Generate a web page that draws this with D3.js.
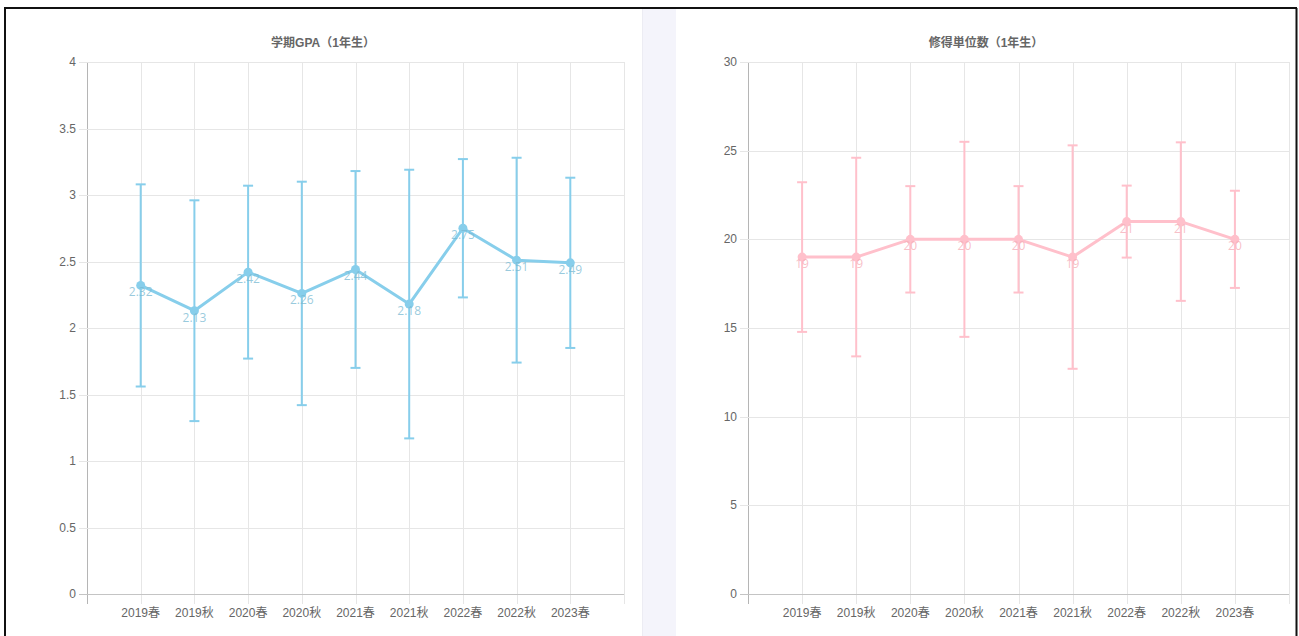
<!DOCTYPE html>
<html><head><meta charset="utf-8">
<script src="https://cdn.jsdelivr.net/npm/d3@7"></script>
<style>
html,body{margin:0;padding:0;background:#fff;}
svg{display:block;}
</style></head>
<body>
<svg id="c" width="1299" height="636"></svg>
<script>
const categories = ["2019春","2019秋","2020春","2020秋","2021春","2021秋","2022春","2022秋","2023春"];
const gpaMean = [2.32, 2.13, 2.42, 2.26, 2.44, 2.18, 2.75, 2.51, 2.49];
const gpaSd   = [0.76, 0.83, 0.65, 0.84, 0.74, 1.01, 0.52, 0.77, 0.64];
const gpaTicks = [0, 0.5, 1, 1.5, 2, 2.5, 3, 3.5, 4];
const creditMean = [19, 19, 20, 20, 20, 19, 21, 21, 20];
const creditSd   = [4.22, 5.6, 3.0, 5.5, 3.0, 6.3, 2.03, 4.47, 2.74];
const creditTicks = [0, 5, 10, 15, 20, 25, 30];

const svg = d3.select("#c");
const CJK = "'Liberation Sans', Arial, 'Noto Sans CJK JP', sans-serif";

// page frame
svg.append("rect").attr("x",0).attr("y",0).attr("width",1299).attr("height",636).attr("fill","#fff");
svg.append("rect").attr("x",642).attr("y",9).attr("width",34).attr("height",627).attr("fill","#f4f4fb");
svg.append("line").attr("x1",642.5).attr("x2",642.5).attr("y1",9).attr("y2",636).attr("stroke","#ececf3");
svg.append("line").attr("x1",4).attr("x2",1297).attr("y1",8).attr("y2",8).attr("stroke","#111").attr("stroke-width",2);
svg.append("line").attr("x1",5).attr("x2",5).attr("y1",8).attr("y2",636).attr("stroke","#111").attr("stroke-width",2);
svg.append("line").attr("x1",1296.5).attr("x2",1296.5).attr("y1",8).attr("y2",636).attr("stroke","#111").attr("stroke-width",2);

function drawChart(opt){
  const g = svg.append("g");
  const x = d3.scaleLinear().domain([0, categories.length + 1]).range([opt.left, opt.right]);
  const y = d3.scaleLinear().domain([0, opt.max]).range([594, 62]);

  // title
  g.append("text").attr("x", opt.titleX).attr("y", 47).attr("text-anchor","middle")
    .attr("font-family", CJK).attr("font-size", 12).attr("font-weight","bold").attr("fill","#666")
    .text(opt.title);

  // vertical grid lines (with tick marks below axis)
  const xs = d3.range(0, categories.length + 2);
  g.selectAll(".vg").data(xs).enter().append("line")
    .attr("x1", d => Math.round(x(d)) + 0.5).attr("x2", d => Math.round(x(d)) + 0.5)
    .attr("y1", y(opt.max)).attr("y2", 604)
    .attr("stroke", d => d === 0 ? "#b5b5b5" : "#e6e6e6").attr("stroke-width", 1);

  // horizontal grid lines + y tick marks
  g.selectAll(".hg").data(opt.ticks).enter().append("line")
    .attr("x1", opt.left - 8).attr("x2", opt.right)
    .attr("y1", d => Math.round(y(d)) + 0.5).attr("y2", d => Math.round(y(d)) + 0.5)
    .attr("stroke", d => d === 0 ? "#c4c4c4" : "#e6e6e6").attr("stroke-width", 1);

  // y tick labels
  g.selectAll(".yl").data(opt.ticks).enter().append("text")
    .attr("x", opt.left - 11).attr("y", d => y(d) + 4)
    .attr("text-anchor","end").attr("font-family", CJK).attr("font-size", 12).attr("fill","#666")
    .text(d => d);

  // x tick labels
  g.selectAll(".xl").data(categories).enter().append("text")
    .attr("x", (d,i) => x(i + 1)).attr("y", 617)
    .attr("text-anchor","middle").attr("font-family", CJK).attr("font-size", 12).attr("fill","#666")
    .text(d => d);

  const pts = opt.mean.map((m, i) => ({i, m, sd: opt.sd[i]}));

  // error bars
  const eb = g.selectAll(".eb").data(pts).enter().append("g");
  eb.append("line").attr("x1", d => x(d.i+1)).attr("x2", d => x(d.i+1))
    .attr("y1", d => y(d.m + d.sd)).attr("y2", d => y(d.m - d.sd))
    .attr("stroke", opt.color).attr("stroke-width", 2);
  eb.append("line").attr("x1", d => x(d.i+1) - 5).attr("x2", d => x(d.i+1) + 5)
    .attr("y1", d => y(d.m + d.sd)).attr("y2", d => y(d.m + d.sd))
    .attr("stroke", opt.color).attr("stroke-width", 2);
  eb.append("line").attr("x1", d => x(d.i+1) - 5).attr("x2", d => x(d.i+1) + 5)
    .attr("y1", d => y(d.m - d.sd)).attr("y2", d => y(d.m - d.sd))
    .attr("stroke", opt.color).attr("stroke-width", 2);

  // line
  const line = d3.line().x(d => x(d.i+1)).y(d => y(d.m));
  g.append("path").datum(pts).attr("d", line).attr("fill","none")
    .attr("stroke", opt.color).attr("stroke-width", 3).attr("stroke-linejoin","round");

  // points
  g.selectAll(".pt").data(pts).enter().append("circle")
    .attr("cx", d => x(d.i+1)).attr("cy", d => y(d.m)).attr("r", 4.5)
    .attr("fill", opt.color);

  // data labels
  g.selectAll(".dl").data(pts).enter().append("text")
    .attr("x", d => x(d.i+1)).attr("y", d => y(d.m) + 11)
    .attr("text-anchor","middle").attr("font-family","'Open Sans', 'DejaVu Sans', sans-serif")
    .attr("font-size", 12).attr("fill", opt.labelColor)
    .text(d => d.m);
}

drawChart({
  title: "学期GPA（1年生）", titleX: 323, left: 87, right: 624, max: 4,
  ticks: gpaTicks, mean: gpaMean, sd: gpaSd, color: "#87ceeb", labelColor: "rgba(120,185,210,0.75)"
});
drawChart({
  title: "修得単位数（1年生）", titleX: 986, left: 748, right: 1289, max: 30,
  ticks: creditTicks, mean: creditMean, sd: creditSd, color: "#ffc0cb", labelColor: "rgba(245,175,185,0.8)"
});
</script>
</body></html>
